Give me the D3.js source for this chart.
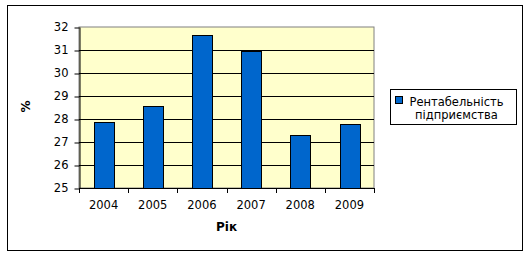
<!DOCTYPE html>
<html>
<head>
<meta charset="utf-8">
<script src="https://cdn.jsdelivr.net/npm/d3@7"></script>
<style>
  body { margin: 0; background: #fff; }
  text { font-family: "DejaVu Sans", Verdana, sans-serif; }
</style>
</head>
<body>
<script>
// chart values
const years = ["2004", "2005", "2006", "2007", "2008", "2009"];
const profitability = [27.88, 28.57, 31.65, 30.96, 27.3, 27.78];
const yTicks = [25, 26, 27, 28, 29, 30, 31, 32];
const seriesName = ["Рентабельність", "підприємства"];

const W = 530, H = 257;
const margin = { top: 27, right: 156, bottom: 69, left: 79 },
  width = W - margin.left - margin.right,
  height = H - margin.top - margin.bottom;

const svg = d3.select("body").append("svg")
  .attr("width", W)
  .attr("height", H);

// outer chart border
svg.append("rect")
  .attr("x", 7.5).attr("y", 5.5)
  .attr("width", 515).attr("height", 245)
  .attr("fill", "#fff")
  .attr("stroke", "#000");

const g = svg.append("g")
  .attr("transform", `translate(${margin.left}, ${margin.top})`);

const x = d3.scaleBand().domain(years).range([0, width]).paddingInner(0.6).paddingOuter(0.3);
const y = d3.scaleLinear().domain([25, 32]).range([height, 0]);

// plot area
g.append("rect")
  .attr("x", 0).attr("y", 0)
  .attr("width", width).attr("height", height)
  .attr("fill", "#ffffcc")
  .attr("stroke", "#808080");

// gridlines
g.selectAll(".grid")
  .data(yTicks.filter(d => d > 25 && d < 32))
  .enter().append("line")
  .attr("class", "grid")
  .attr("x1", 0).attr("x2", width)
  .attr("y1", d => Math.round(y(d)) + 0.5)
  .attr("y2", d => Math.round(y(d)) + 0.5)
  .attr("stroke", "#000");

// bars
g.selectAll(".bar")
  .data(profitability)
  .enter().append("rect")
  .attr("class", "bar")
  .attr("x", (d, i) => Math.round(x(years[i])) + 0.5)
  .attr("y", d => Math.round(y(d)) + 0.5)
  .attr("width", Math.round(x.bandwidth()))
  .attr("height", d => height - Math.round(y(d)))
  .attr("fill", "#0066cc")
  .attr("stroke", "#000");

// y axis
const yAxis = g.append("g")
  .attr("transform", "translate(0.5, 0)")
  .call(d3.axisLeft(y).tickValues(yTicks).tickSize(5).tickSizeOuter(0).tickFormat(d3.format("d")));
yAxis.select(".domain").attr("stroke", "#000");
yAxis.selectAll("line").attr("stroke", "#000")
  .attr("transform", d => `translate(0, ${Math.round(y(d)) + 0.5 - y(d)})`);
yAxis.selectAll("text")
  .attr("font-size", 11.5)
  .attr("font-family", "DejaVu Sans, Verdana, sans-serif")
  .attr("fill", "#000")
  .attr("x", -11);

// x axis: ticks at category boundaries
const boundaries = d3.range(years.length + 1).map(i => i * width / years.length);
g.append("line")
  .attr("x1", 0).attr("x2", width)
  .attr("y1", height + 0.5).attr("y2", height + 0.5)
  .attr("stroke", "#000");
g.selectAll(".xtick")
  .data(boundaries)
  .enter().append("line")
  .attr("x1", d => Math.round(d) + 0.5).attr("x2", d => Math.round(d) + 0.5)
  .attr("y1", height).attr("y2", height + 5)
  .attr("stroke", "#000");
g.selectAll(".xlabel")
  .data(years)
  .enter().append("text")
  .attr("x", d => x(d) + x.bandwidth() / 2)
  .attr("y", height + 21)
  .attr("text-anchor", "middle")
  .attr("font-size", 11.5)
  .text(d => d);

// axis titles
g.append("text")
  .attr("x", width / 2)
  .attr("y", height + 43)
  .attr("text-anchor", "middle")
  .attr("font-size", 12)
  .attr("font-weight", "bold")
  .text("Рік");

g.append("text")
  .attr("transform", `translate(${-margin.left + 30}, ${height / 2 - 1}) rotate(-90)`)
  .attr("text-anchor", "middle")
  .attr("font-size", 12)
  .attr("font-weight", "bold")
  .text("%");

// legend
const legend = svg.append("g").attr("transform", "translate(390.5, 89.5)");
legend.append("rect")
  .attr("width", 126).attr("height", 35)
  .attr("fill", "#fff")
  .attr("stroke", "#000");
legend.append("rect")
  .attr("x", 5).attr("y", 7)
  .attr("width", 7).attr("height", 7)
  .attr("fill", "#0066cc")
  .attr("stroke", "#000");
legend.selectAll(".ltext")
  .data(seriesName)
  .enter().append("text")
  .attr("x", 66)
  .attr("y", (d, i) => 16 + i * 13)
  .attr("text-anchor", "middle")
  .attr("font-size", 11.5)
  .text(d => d);
</script>
</body>
</html>
